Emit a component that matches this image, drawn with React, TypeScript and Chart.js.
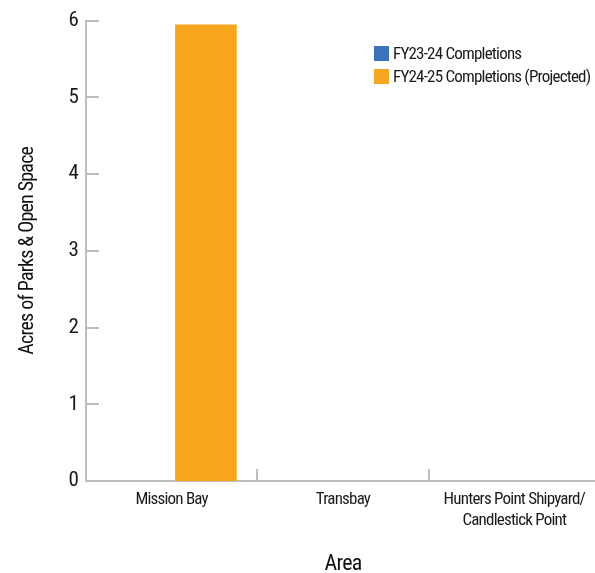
import React, { useEffect, useRef } from "react";
import { Chart, registerables } from "chart.js";

Chart.register(...registerables);

const categories: (string | string[])[] = [
  "Mission Bay",
  "Transbay",
  ["Hunters Point Shipyard/", "Candlestick Point"],
];
const seriesNames = ["FY23-24 Completions", "FY24-25 Completions (Projected)"];
const fy2324 = [0, 0, 0];
const fy2425 = [5.95, 0, 0];
const colors = ["#3B71BE", "#F8A61D"];
const yTicks = [0, 1, 2, 3, 4, 5, 6];

const FONT = "'Roboto Condensed', 'DejaVu Sans Condensed', sans-serif";
const AXIS = "#BDBDBD";
const SPACING = "-0.8px";

const tightText = {
  id: "tightText",
  beforeUpdate(chart: any) {
    chart.ctx.letterSpacing = SPACING;
  },
  beforeDraw(chart: any) {
    chart.ctx.letterSpacing = SPACING;
  },
};

const innerTicks = {
  id: "innerTicks",
  afterDraw(chart: any) {
    const ctx = chart.ctx;
    const x = chart.scales.x;
    const y = chart.scales.y;
    ctx.save();
    ctx.strokeStyle = AXIS;
    ctx.lineWidth = 2;
    ctx.beginPath();
    yTicks.forEach((v) => {
      if (v === 0) return;
      const py = Math.round(y.getPixelForValue(v));
      ctx.moveTo(x.left, py);
      ctx.lineTo(x.left + 13, py);
    });
    for (let i = 0; i < categories.length - 1; i++) {
      const px = Math.round((x.getPixelForTick(i) + x.getPixelForTick(i + 1)) / 2);
      ctx.moveTo(px, y.bottom);
      ctx.lineTo(px, y.bottom - 12);
    }
    ctx.stroke();
    ctx.restore();
  },
};

export default function App() {
  const ref = useRef<HTMLCanvasElement>(null);
  useEffect(() => {
    document.body.style.margin = "0";
    const chart = new Chart(ref.current!, {
      type: "bar",
      data: {
        labels: categories,
        datasets: [
          { label: seriesNames[0], data: fy2324, backgroundColor: colors[0] },
          { label: seriesNames[1], data: fy2425, backgroundColor: colors[1] },
        ],
      },
      options: {
        animation: false,
        responsive: false,
        layout: { padding: { top: 10, left: 0, right: 0, bottom: 0 } },
        plugins: { legend: { display: false }, tooltip: { enabled: false } },
        scales: {
          x: {
            grid: { display: false, drawTicks: false },
            border: { display: true, color: AXIS, width: 2 },
            ticks: {
              color: "#1a1a1a",
              font: { family: FONT, size: 17, lineHeight: 1.25 },
              padding: 8,
              maxRotation: 0,
              minRotation: 0,
              autoSkip: false,
            },
            title: { display: true, text: "Area", color: "#111", font: { family: FONT, size: 22, lineHeight: 1.0 }, padding: { top: 10, bottom: -2 } },
            afterFit: (s: any) => { s.height = 92; },
          },
          y: {
            min: 0,
            max: 6,
            grid: { display: false, drawTicks: false },
            border: { display: true, color: AXIS, width: 2 },
            ticks: { stepSize: 1, color: "#1a1a1a", font: { family: FONT, size: 21 }, padding: 8 },
            title: { display: true, text: "Acres of Parks & Open Space", color: "#111", font: { family: FONT, size: 20 }, padding: { top: 16, bottom: 0 } },
            afterFit: (s: any) => { s.width = 86; },
          },
        },
      },
      plugins: [tightText, innerTicks],
    });
    return () => chart.destroy();
  }, []);

  return (
    <div style={{ position: "relative", width: 595, height: 573, overflow: "hidden" }}>
      <canvas ref={ref} width={600} height={573} style={{ display: "block" }} />
      <div style={{ position: "absolute", left: 374, top: 46, fontFamily: FONT, fontSize: 17, letterSpacing: SPACING, color: "#1a1a1a", lineHeight: "15px" }}>
        {seriesNames.map((n, i) => (
          <div key={n} style={{ display: "flex", alignItems: "center", height: 15, marginBottom: 8 }}>
            <span style={{ width: 15, height: 15, background: colors[i], marginRight: 4, display: "inline-block", flex: "none" }} />
            <span style={{ whiteSpace: "nowrap" }}>{n}</span>
          </div>
        ))}
      </div>
    </div>
  );
}
